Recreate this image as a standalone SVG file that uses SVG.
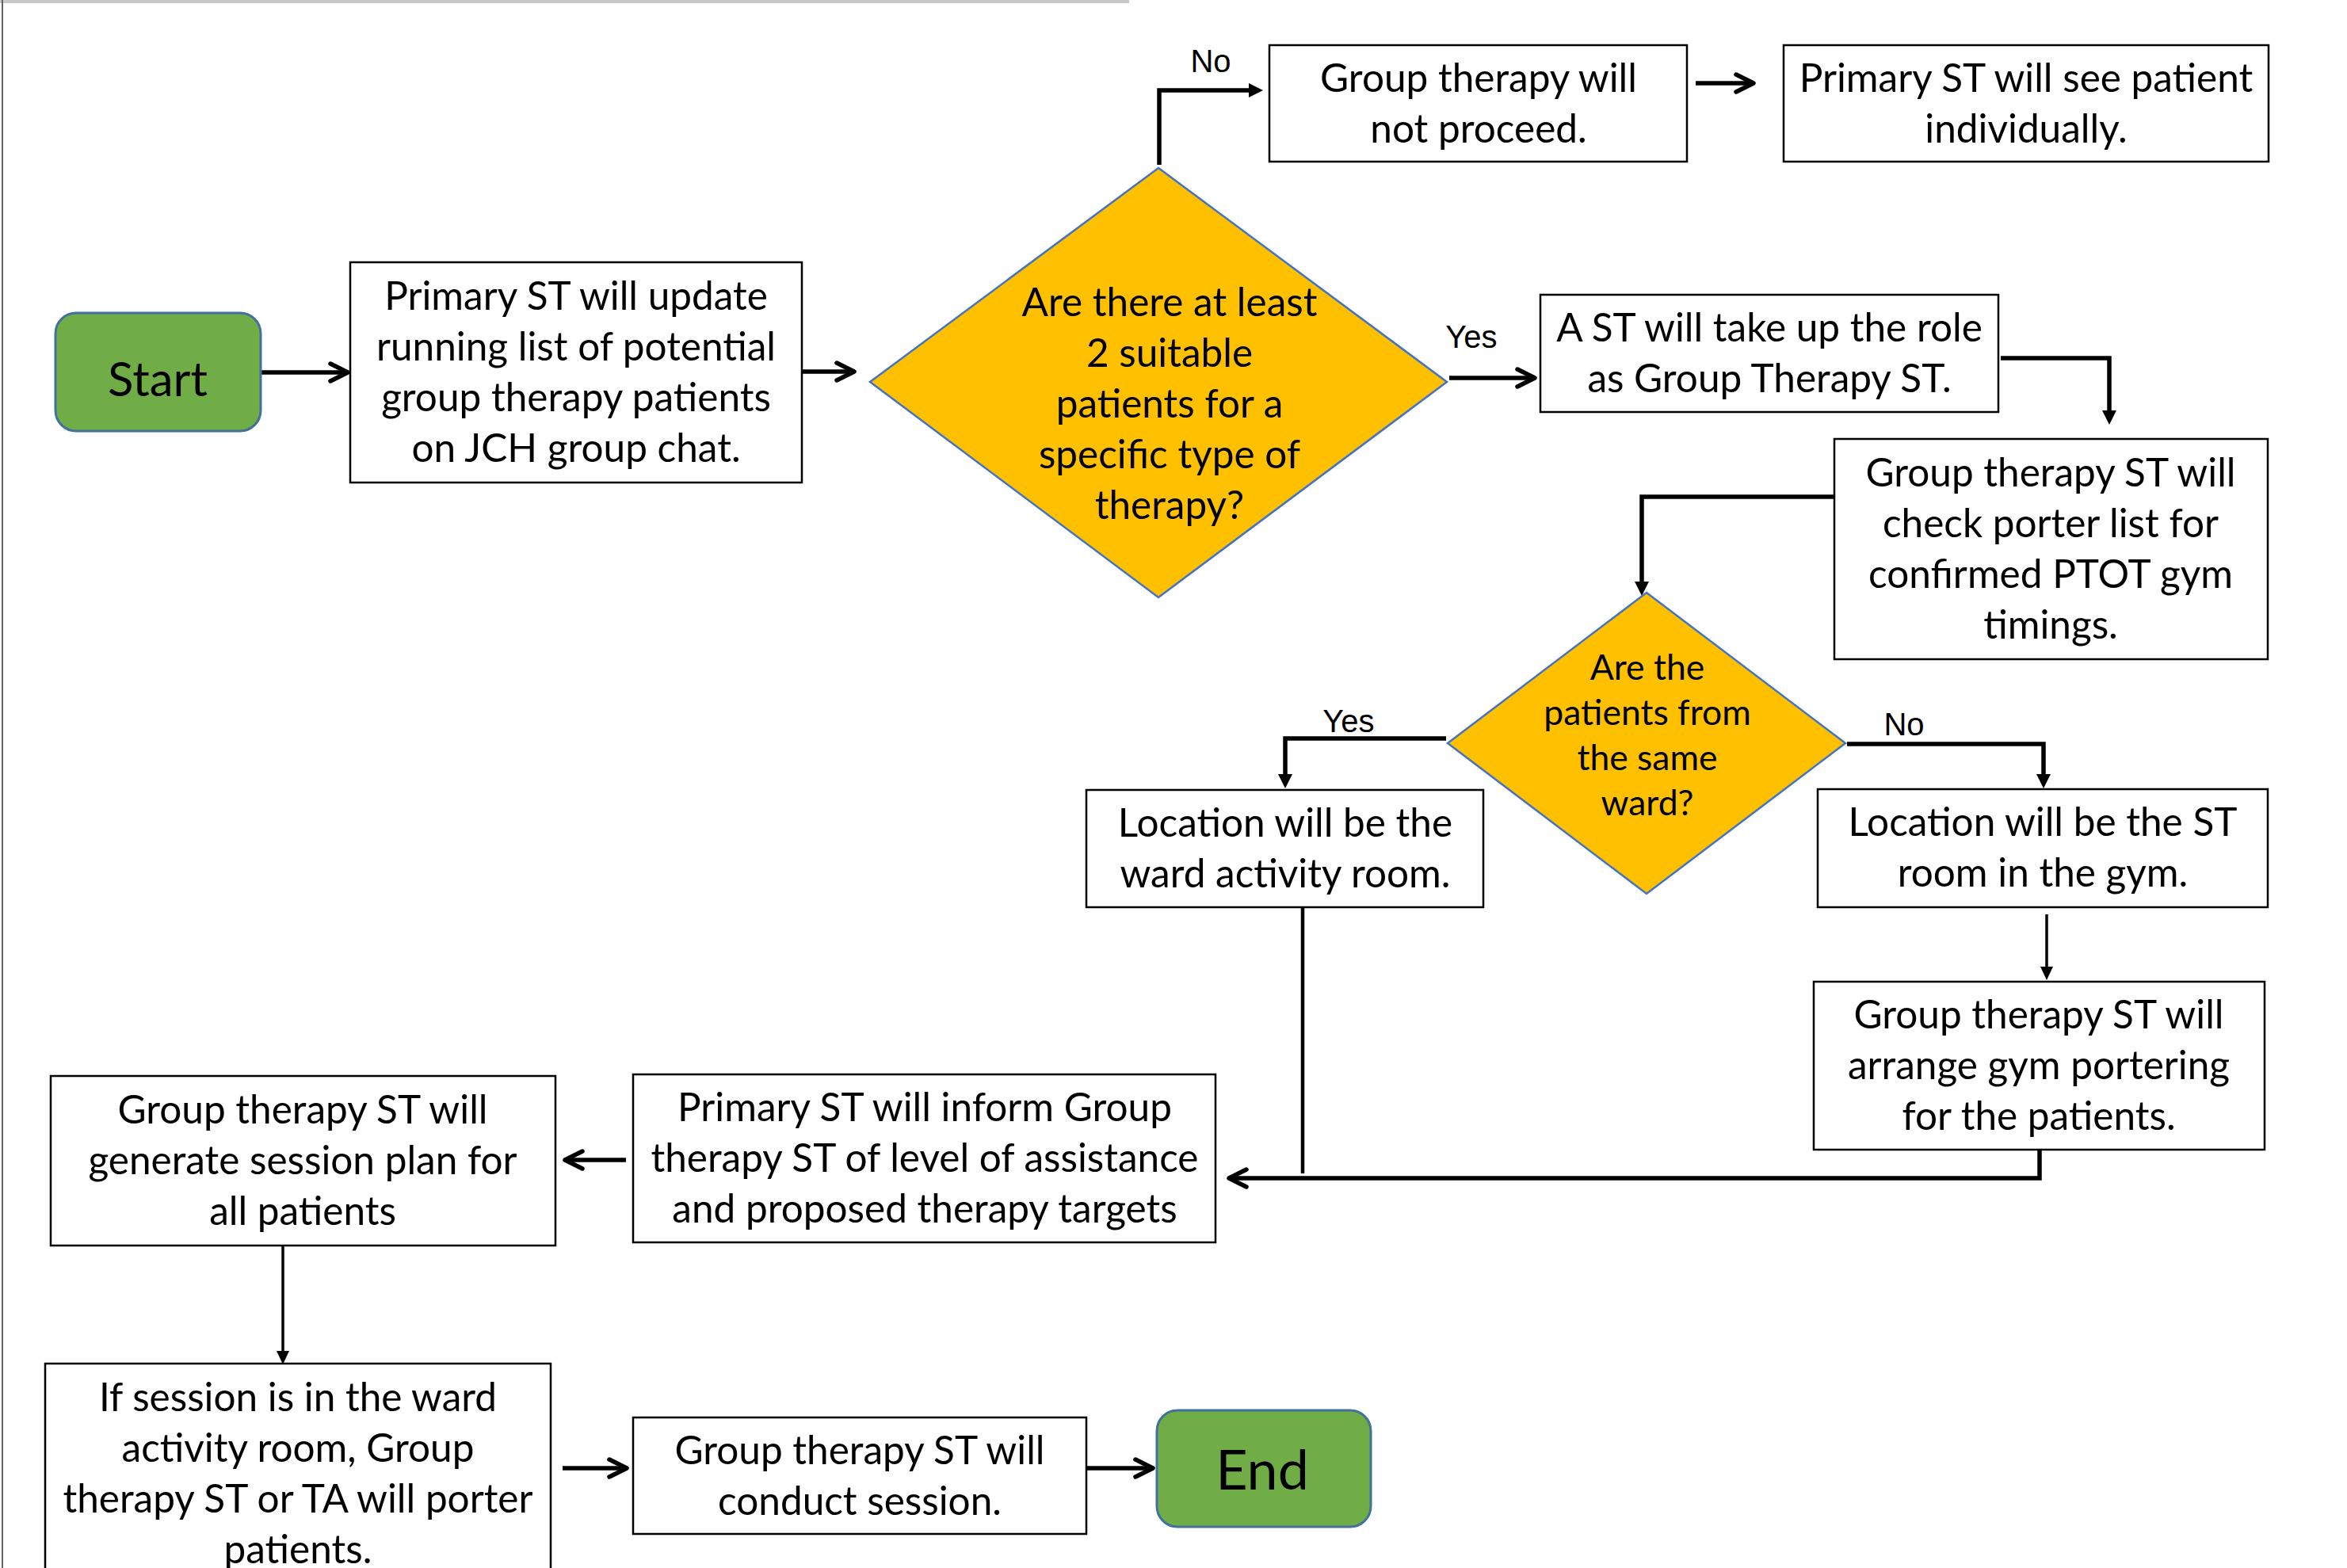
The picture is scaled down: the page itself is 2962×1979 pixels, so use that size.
<svg xmlns="http://www.w3.org/2000/svg" width="2962" height="1979" viewBox="0 0 2962 1979">
<style>
.bg{fill:#fff}
.box{fill:#fff;stroke:#000;stroke-width:2.5}
.term{fill:#70AD47;stroke:#41719C;stroke-width:3}
.dia{fill:#FFC000;stroke:#4472C4;stroke-width:2.5}
.t{font-family:Lato,"Liberation Sans",sans-serif;font-size:49.5px;fill:#000;text-anchor:middle}
.td{font-family:Lato,"Liberation Sans",sans-serif;font-size:44.5px;fill:#000;text-anchor:middle}
.tt{font-family:Lato,"Liberation Sans",sans-serif;fill:#000;text-anchor:middle}
.lab{font-family:"Liberation Sans",Arial,sans-serif;font-size:40px;fill:#000;text-anchor:middle}
.c{fill:none;stroke:#000;stroke-width:5.5}
.ct{fill:none;stroke:#000;stroke-width:3.5}
</style>
<defs>
<marker id="chev" markerUnits="userSpaceOnUse" viewBox="-30 -16 34 32" refX="0" refY="0" markerWidth="34" markerHeight="32" orient="auto">
<path d="M-22,-11 L0,0 L-22,11" fill="none" stroke="#000" stroke-width="5.5" stroke-linecap="round" stroke-linejoin="round"/>
</marker>
<marker id="tri" markerUnits="userSpaceOnUse" viewBox="0 -10 19 20" refX="0" refY="0" markerWidth="19" markerHeight="20" orient="auto">
<path d="M0,-9 L18,0 L0,9 Z" fill="#000"/>
</marker>
<marker id="tris" markerUnits="userSpaceOnUse" viewBox="0 -10 19 20" refX="0" refY="0" markerWidth="19" markerHeight="20" orient="auto">
<path d="M0,-8 L17,0 L0,8 Z" fill="#000"/>
</marker>
</defs>
<rect class="bg" x="0" y="0" width="2962" height="1979"/>
<line x1="0" y1="2" x2="1425" y2="2" stroke="#c8c8c8" stroke-width="4"/>
<line x1="3" y1="0" x2="3" y2="1979" stroke="#666" stroke-width="2"/>

<g id="connectors">
<line class="c" x1="329" y1="470" x2="439" y2="470" marker-end="url(#chev)"/>
<line class="c" x1="1012" y1="469" x2="1078" y2="469" marker-end="url(#chev)"/>
<path class="c" d="M1463,208 V114 H1576" marker-end="url(#tri)"/>
<line class="c" x1="2140" y1="105" x2="2213" y2="105" marker-end="url(#chev)"/>
<line class="c" x1="1829" y1="477" x2="1937" y2="477" marker-end="url(#chev)"/>
<path class="c" d="M2525,452 H2662 V518" marker-end="url(#tri)"/>
<path class="c" d="M2316,627 H2072 V734" marker-end="url(#tri)"/>
<path class="c" d="M1825,932 H1622 V977" marker-end="url(#tri)"/>
<path class="c" d="M2331,939 H2579 V977" marker-end="url(#tri)"/>
<path class="ct" d="M2583,1154 V1220" marker-end="url(#tris)"/>
<path class="c" d="M1644,1145 V1481" style="stroke-width:4.5"/>
<path class="c" d="M2574,1451 V1487 H1551" marker-end="url(#chev)"/>
<line class="c" x1="790" y1="1464" x2="713" y2="1464" marker-end="url(#chev)"/>
<path class="ct" d="M357,1572 V1705" marker-end="url(#tris)"/>
<line class="c" x1="710" y1="1853" x2="791" y2="1853" marker-end="url(#chev)"/>
<line class="c" x1="1372" y1="1853" x2="1455" y2="1853" marker-end="url(#chev)"/>
<text class="lab" x="1528" y="91">No</text>
<text class="lab" x="1857" y="439">Yes</text>
<text class="lab" x="1702" y="924">Yes</text>
<text class="lab" x="2403" y="928">No</text>
</g>

<g id="start">
<rect class="term" x="70" y="395" width="259" height="149" rx="26"/>
<text class="tt" x="199" y="500" font-size="60">Start</text>
</g>
<g id="update-list">
<rect class="box" x="442" y="331" width="570" height="278"/>
<text class="t" x="727" y="391">Primary ST will update</text>
<text class="t" x="727" y="455">running list of potential</text>
<text class="t" x="727" y="519">group therapy patients</text>
<text class="t" x="727" y="583">on JCH group chat.</text>
</g>
<g id="decision-suitable">
<polygon class="dia" points="1462,212 1826,482 1462,754 1098,482"/>
<text class="t" x="1476" y="399">Are there at least</text>
<text class="t" x="1476" y="463">2 suitable</text>
<text class="t" x="1476" y="527">patients for a</text>
<text class="t" x="1476" y="591">specific type of</text>
<text class="t" x="1476" y="655">therapy?</text>
</g>
<g id="not-proceed">
<rect class="box" x="1602" y="57" width="527" height="147"/>
<text class="t" x="1866" y="116">Group therapy will</text>
<text class="t" x="1866" y="180">not proceed.</text>
</g>
<g id="see-individually">
<rect class="box" x="2251" y="57" width="612" height="147"/>
<text class="t" x="2557" y="116">Primary ST will see patient</text>
<text class="t" x="2557" y="180">individually.</text>
</g>
<g id="take-role">
<rect class="box" x="1944" y="372" width="578" height="148"/>
<text class="t" x="2233" y="431">A ST will take up the role</text>
<text class="t" x="2233" y="495">as Group Therapy ST.</text>
</g>
<g id="check-porter">
<rect class="box" x="2315" y="554" width="547" height="278"/>
<text class="t" x="2588" y="614">Group therapy ST will</text>
<text class="t" x="2588" y="678">check porter list for</text>
<text class="t" x="2588" y="742">confirmed PTOT gym</text>
<text class="t" x="2588" y="806">timings.</text>
</g>
<g id="decision-ward">
<polygon class="dia" points="2078,748 2329,938 2078,1128 1827,938"/>
<text class="td" x="2079" y="858">Are the</text>
<text class="td" x="2079" y="915">patients from</text>
<text class="td" x="2079" y="972">the same</text>
<text class="td" x="2079" y="1029">ward?</text>
</g>
<g id="ward-room">
<rect class="box" x="1371" y="997" width="501" height="148"/>
<text class="t" x="1622" y="1056">Location will be the</text>
<text class="t" x="1622" y="1120">ward activity room.</text>
</g>
<g id="gym-room">
<rect class="box" x="2294" y="996" width="568" height="149"/>
<text class="t" x="2578" y="1055">Location will be the ST</text>
<text class="t" x="2578" y="1119">room in the gym.</text>
</g>
<g id="gym-portering">
<rect class="box" x="2289" y="1239" width="569" height="212"/>
<text class="t" x="2573" y="1298">Group therapy ST will</text>
<text class="t" x="2573" y="1362">arrange gym portering</text>
<text class="t" x="2573" y="1426">for the patients.</text>
</g>
<g id="inform-group">
<rect class="box" x="799" y="1356" width="735" height="212"/>
<text class="t" x="1167" y="1415">Primary ST will inform Group</text>
<text class="t" x="1167" y="1479">therapy ST of level of assistance</text>
<text class="t" x="1167" y="1543">and proposed therapy targets</text>
</g>
<g id="session-plan">
<rect class="box" x="64" y="1358" width="637" height="214"/>
<text class="t" x="382" y="1418">Group therapy ST will</text>
<text class="t" x="382" y="1482">generate session plan for</text>
<text class="t" x="382" y="1546">all patients</text>
</g>
<g id="ward-porter">
<rect class="box" x="57" y="1721" width="638" height="290"/>
<text class="t" x="376" y="1781">If session is in the ward</text>
<text class="t" x="376" y="1845">activity room, Group</text>
<text class="t" x="376" y="1909">therapy ST or TA will porter</text>
<text class="t" x="376" y="1973">patients.</text>
</g>
<g id="conduct-session">
<rect class="box" x="799" y="1789" width="572" height="147"/>
<text class="t" x="1085" y="1848">Group therapy ST will</text>
<text class="t" x="1085" y="1912">conduct session.</text>
</g>
<g id="end">
<rect class="term" x="1460" y="1780" width="270" height="147" rx="26"/>
<text class="tt" x="1593" y="1880" font-size="70">End</text>
</g>
</svg>
